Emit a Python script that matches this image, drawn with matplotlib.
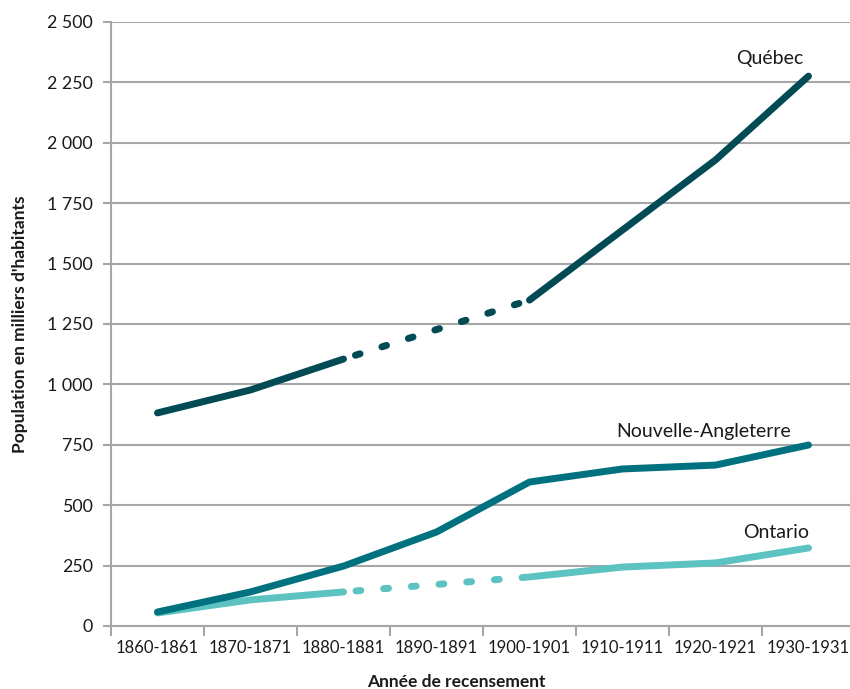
import numpy as np
import matplotlib
matplotlib.use("Agg")
import matplotlib.pyplot as plt
from matplotlib.ticker import FuncFormatter, FixedLocator

categories = ["1860-1861", "1870-1871", "1880-1881", "1890-1891",
              "1900-1901", "1910-1911", "1920-1921", "1930-1931"]
quebec = [882, 977, 1105, None, 1349, 1639, 1929, 2276]
nouvelle_angleterre = [58, 141, 248, 389, 596, 650, 666, 749]
ontario = [54, 108, 141, None, 203, 244, 261, 323]
yticks = [0, 250, 500, 750, 1000, 1250, 1500, 1750, 2000, 2250, 2500]

c_q = "#024B55"
c_na = "#00727F"
c_on = "#5CC2C2"
grid_c = "#A6A6A6"
txt_c = "#1a1a1a"

plt.rcParams['font.family'] = ['Lato', 'DejaVu Sans']

fig = plt.figure(figsize=(8.5, 6.89), dpi=100)
ax = fig.add_axes([111/850, 1-626/689, 744/850, 604/689])

lw = 5.0

def draw(vals, color, z):
    x = np.arange(len(vals))
    v = [np.nan if a is None else a for a in vals]
    ax.plot(x, v, color=color, lw=lw, solid_capstyle='round',
            solid_joinstyle='round', zorder=z)
    idx = [i for i, a in enumerate(vals) if a is not None]
    for a, b in zip(idx[:-1], idx[1:]):
        if b - a > 1:
            ax.plot([a, b], [vals[a], vals[b]], color=color, lw=lw,
                    linestyle=(2.2, (0.7, 3.3)), dash_capstyle='round', zorder=z)

draw(ontario, c_on, 3)
draw(nouvelle_angleterre, c_na, 4)
draw(quebec, c_q, 5)

ax.set_ylim(0, 2500)
ax.set_xlim(-0.5, 7.5)
ax.yaxis.set_major_locator(FixedLocator(yticks))
ax.yaxis.set_major_formatter(FuncFormatter(lambda v, p: f"{int(v):,}".replace(",", " ")))
ax.set_xticks(range(len(categories)))
ax.set_xticklabels(categories)
ax.set_xticks(np.arange(-0.5, 8, 1), minor=True)
ax.tick_params(axis='x', which='major', length=0, labelsize=12, pad=10, colors=txt_c)
ax.tick_params(axis='x', which='minor', length=7, width=1.5, color=grid_c)
ax.tick_params(axis='y', length=6, width=1.5, color=grid_c, labelsize=12.8, pad=7, labelcolor=txt_c)
ax.grid(axis='y', color=grid_c, lw=1.5, zorder=0)
ax.set_axisbelow(True)
for s in ['top', 'right']:
    ax.spines[s].set_visible(False)
for s in ['left', 'bottom']:
    ax.spines[s].set_color(grid_c)
    ax.spines[s].set_linewidth(1.5)

ax.set_ylabel("Population en milliers d'habitants", fontsize=12.5, fontweight='bold', color=txt_c, va='center')
ax.yaxis.set_label_coords((20 - 111) / 744, 0.5)
ax.set_xlabel("Année de recensement", fontsize=12.5, fontweight='bold', color=txt_c, va='center')
ax.xaxis.set_label_coords(0.5 - (111 + 372 - 456) / 744, (626 - 682) / 604)

ax.text(6.95, 2326, "Québec", ha='right', va='baseline', fontsize=14, color=txt_c)
ax.text(6.81, 782, "Nouvelle-Angleterre", ha='right', va='baseline', fontsize=14, color=txt_c)
ax.text(7.01, 364, "Ontario", ha='right', va='baseline', fontsize=14, color=txt_c)

fig.savefig("out.png", dpi=100)
